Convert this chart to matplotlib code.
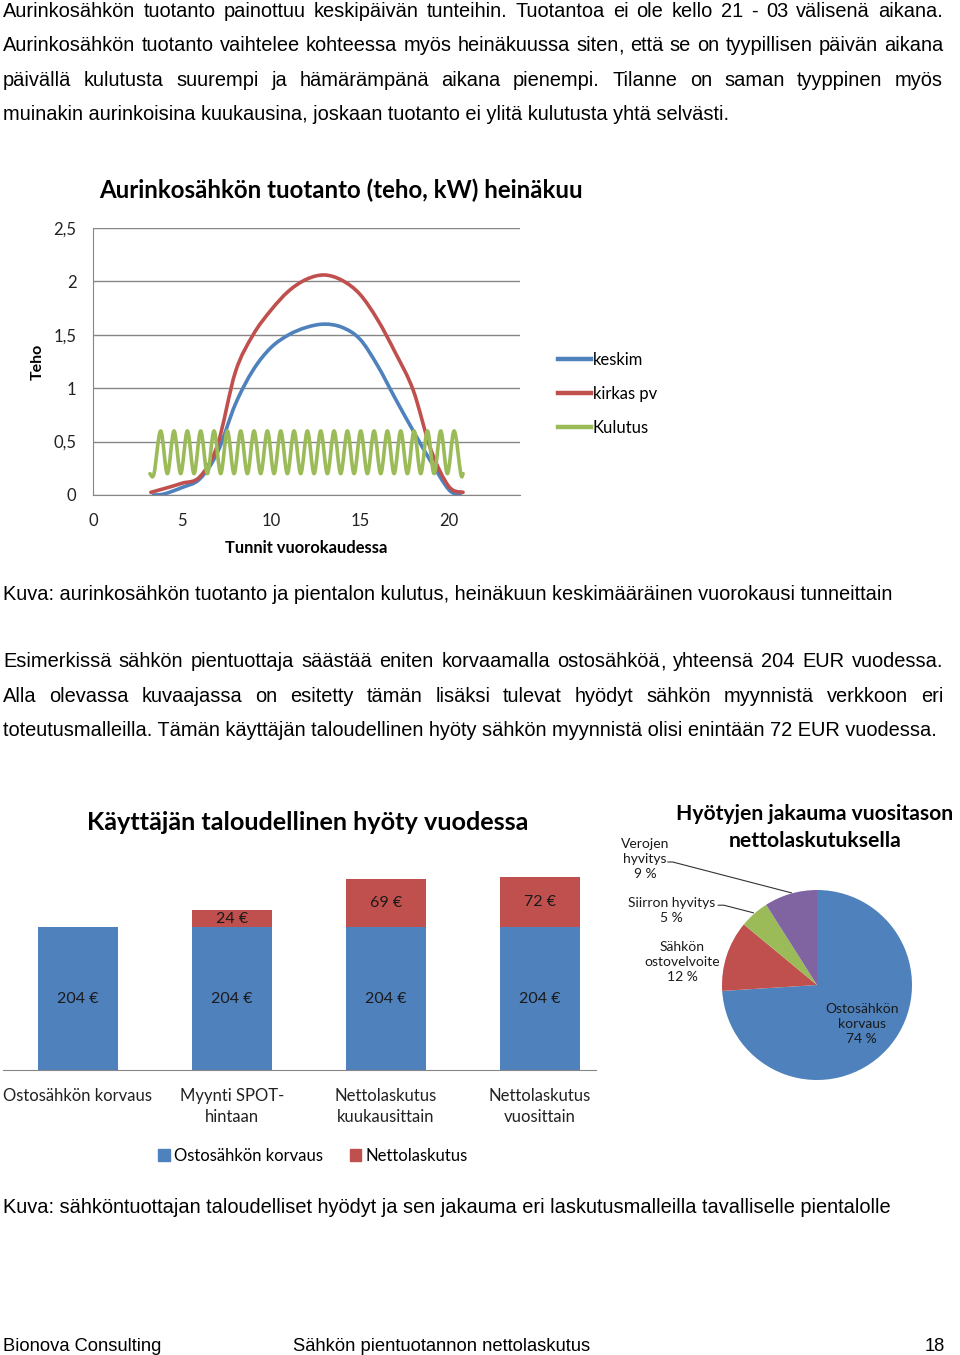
import numpy as np
import matplotlib.pyplot as plt
from matplotlib.path import Path
from matplotlib.patches import PathPatch, Patch
from matplotlib.lines import Line2D

W, H = 960, 1355
BODY = 'Liberation Sans'
CHART = 'Lato'

BLUE = '#4F81BD'
RED = '#C0504D'
GREEN = '#9BBB59'
PURPLE = '#8064A2'
GRID = '#868686'

# --- text of the page ---
para1 = [
    "Aurinkosähkön tuotanto painottuu keskipäivän tunteihin. Tuotantoa ei ole kello 21 - 03 välisenä aikana.",
    "Aurinkosähkön tuotanto vaihtelee kohteessa myös heinäkuussa siten, että se on tyypillisen päivän aikana",
    "päivällä kulutusta suurempi ja hämärämpänä aikana pienempi. Tilanne on saman tyyppinen myös",
    "muinakin aurinkoisina kuukausina, joskaan tuotanto ei ylitä kulutusta yhtä selvästi.",
]
caption1 = "Kuva: aurinkosähkön tuotanto ja pientalon kulutus, heinäkuun keskimääräinen vuorokausi tunneittain"
para2 = [
    "Esimerkissä sähkön pientuottaja säästää eniten korvaamalla ostosähköä, yhteensä 204 EUR vuodessa.",
    "Alla olevassa kuvaajassa on esitetty tämän lisäksi tulevat hyödyt sähkön myynnistä verkkoon eri",
    "toteutusmalleilla. Tämän käyttäjän taloudellinen hyöty sähkön myynnistä olisi enintään 72 EUR vuodessa.",
]
caption2 = "Kuva: sähköntuottajan taloudelliset hyödyt ja sen jakauma eri laskutusmalleilla tavalliselle pientalolle"

# --- line chart data (kW) ---
keskim_h = [3.4, 4, 5, 6, 7, 8, 9, 10, 11, 12, 13, 14, 15, 16, 17, 18, 19, 20, 20.65]
keskim = [0.0, 0.01, 0.07, 0.15, 0.40, 0.85, 1.17, 1.38, 1.50, 1.57, 1.60, 1.57, 1.46, 1.21, 0.90, 0.60, 0.31, 0.05, 0.0]
kirkas_h = [3.25, 4, 5, 6, 7, 8, 9, 10, 11, 12, 13, 14, 15, 16, 17, 18, 19, 20, 20.8]
kirkas = [0.025, 0.06, 0.11, 0.17, 0.47, 1.15, 1.50, 1.73, 1.91, 2.02, 2.06, 2.01, 1.88, 1.64, 1.33, 0.98, 0.42, 0.08, 0.025]
kulutus_h = [3.2] + list(np.linspace(3.43, 20.67, 47)) + [20.8]
kulutus = [0.2,
           0.2, 0.6, 0.2, 0.6, 0.2, 0.6, 0.2, 0.6, 0.2, 0.6, 0.2, 0.6,
           0.2, 0.6, 0.2, 0.6, 0.2, 0.6, 0.2, 0.6, 0.2, 0.6, 0.2, 0.6,
           0.2, 0.6, 0.2, 0.6, 0.2, 0.6, 0.2, 0.6, 0.2, 0.6, 0.2, 0.6,
           0.2, 0.6, 0.2, 0.6, 0.2, 0.6, 0.2, 0.6, 0.2, 0.6,
           0.2, 0.2]
y_ticks = [0, 0.5, 1, 1.5, 2, 2.5]
y_ticklabels = ['0', '0,5', '1', '1,5', '2', '2,5']
x_ticks = [0, 5, 10, 15, 20]

# --- bar chart data (EUR / vuosi) ---
malli = ['Ostosähkön korvaus', 'Myynti SPOT-\nhintaan', 'Nettolaskutus\nkuukausittain', 'Nettolaskutus\nvuosittain']
ostosahko = [204, 204, 204, 204]
nettolaskutus = [0, 24, 69, 72]

# --- pie data (%) ---
pie_labels = ['Ostosähkön\nkorvaus', 'Sähkön\nostovelvoite', 'Siirron hyvitys', 'Verojen\nhyvitys']
pie_values = [74, 12, 5, 9]
pie_colors = [BLUE, RED, GREEN, PURPLE]


def fx(px):
    return px / W


def fy(py):
    return 1 - py / H


def smooth_path(x, y):
    # smoothed line like in Excel: cubic bezier through the points
    pts = np.column_stack([x, y])
    n = len(pts)
    verts = [pts[0]]
    codes = [Path.MOVETO]
    for i in range(n - 1):
        p0 = pts[i - 1] if i > 0 else pts[i]
        p1 = pts[i]
        p2 = pts[i + 1]
        p3 = pts[i + 2] if i + 2 < n else pts[i + 1]
        verts += [p1 + (p2 - p0) / 6, p2 - (p3 - p1) / 6, p2]
        codes += [Path.CURVE4] * 3
    return Path(verts, codes)


fig = plt.figure(figsize=(9.6, 13.55), dpi=100)
renderer = fig.canvas.get_renderer()

BODY_SIZE = 14.4


def text_line(s, y, justify=True, x0=3, x1=943, size=BODY_SIZE):
    if not justify:
        fig.text(fx(x0), fy(y), s, fontsize=size, family=BODY, va='baseline')
        return
    words = s.split(' ')
    # words ending in a comma: draw the comma on its own, keeps the baseline steady
    pieces = []
    for w in words:
        if w.endswith(','):
            pieces.append([w[:-1], ','])
        else:
            pieces.append([w])
    arts = [[fig.text(0, fy(y), p, fontsize=size, family=BODY, va='baseline') for p in parts]
            for parts in pieces]
    widths = [[a.get_window_extent(renderer).width for a in parts] for parts in arts]
    total = sum(sum(w) for w in widths)
    gap = (x1 - x0 - total) / (len(words) - 1)
    x = x0
    for parts, ws in zip(arts, widths):
        for a, w in zip(parts, ws):
            a.set_x(fx(x))
            x += w
        x += gap


for i, line in enumerate(para1):
    text_line(line, 17 + i * 34.3, justify=(i < len(para1) - 1))
text_line(caption1, 600, justify=False)
for i, line in enumerate(para2):
    text_line(line, 667 + i * 34.5, justify=(i < len(para2) - 1))
text_line(caption2, 1213, justify=False)

fig.text(fx(3), fy(1351), "Bionova Consulting", fontsize=13.2, family=BODY, va='baseline')
fig.text(fx(293), fy(1351), "Sähkön pientuotannon nettolaskutus", fontsize=13.2, family=BODY, va='baseline')
fig.text(fx(945), fy(1351), "18", fontsize=13.2, family=BODY, va='baseline', ha='right')

# ---------------- line chart ----------------
ax = fig.add_axes([fx(93), fy(495), fx(520) - fx(93), fy(228) - fy(495)])
ax.set_xlim(0, 24)
ax.set_ylim(0, 2.5)
for spine in ['top', 'right']:
    ax.spines[spine].set_visible(False)
ax.spines['left'].set_color(GRID)
ax.spines['bottom'].set_color(GRID)
ax.set_yticks(y_ticks)
ax.set_yticklabels(y_ticklabels)
ax.set_xticks(x_ticks)
ax.tick_params(length=0, labelsize=12, pad=12, colors='#222222')
ax.tick_params(axis='x', pad=13)
for lab in ax.get_xticklabels() + ax.get_yticklabels():
    lab.set_family(CHART)
ax.yaxis.grid(True, color=GRID, lw=1)
ax.set_axisbelow(True)

for hx, vals, col in [(keskim_h, keskim, BLUE), (kirkas_h, kirkas, RED), (kulutus_h, kulutus, GREEN)]:
    ax.add_patch(PathPatch(smooth_path(hx, vals), fill=False, edgecolor=col, lw=2.6,
                           capstyle='round', joinstyle='round'))

fig.text(fx(341), fy(190), "Aurinkosähkön tuotanto (teho, kW) heinäkuu", family=CHART,
         fontsize=17.3, fontweight='bold', ha='center', va='center')
fig.text(fx(38), fy(362), "Teho", family=CHART, fontsize=11.5, fontweight='bold',
         rotation=90, ha='center', va='center')
fig.text(fx(306), fy(548), "Tunnit vuorokaudessa", family=CHART, fontsize=11.9,
         fontweight='bold', ha='center', va='center')

handles = [Line2D([], [], color=c, lw=3.2) for c in [BLUE, RED, GREEN]]
fig.legend(handles, ['keskim', 'kirkas pv', 'Kulutus'], loc='center left',
           bbox_to_anchor=(fx(543), fy(394)), frameon=False, handlelength=2.0,
           handletextpad=0.1, labelspacing=1.08, prop={'family': CHART, 'size': 12})

# ---------------- bar chart ----------------
bx = fig.add_axes([fx(3), fy(1070), fx(596) - fx(3), fy(860) - fy(1070)])
pos = np.arange(len(malli))
bx.bar(pos, ostosahko, width=0.52, color=BLUE)
bx.bar(pos, nettolaskutus, width=0.52, bottom=ostosahko, color=RED)
bx.set_xlim(-0.487, 3.364)
bx.set_ylim(0, 300)
for spine in ['top', 'right', 'left']:
    bx.spines[spine].set_visible(False)
bx.spines['bottom'].set_color(GRID)
bx.set_yticks([])
bx.set_xticks(pos)
bx.set_xticklabels(malli, family=CHART, fontsize=12, linespacing=1.4, color='#222222')
bx.tick_params(axis='x', length=0, pad=13)
for p, a, b in zip(pos, ostosahko, nettolaskutus):
    bx.text(p, a / 2, f"{a} €", ha='center', va='center', family=CHART, fontsize=11.5, color='#1a1a1a')
    if b > 0:
        bx.text(p, a + b / 2, f"{b} €", ha='center', va='center', family=CHART, fontsize=11.5, color='#1a1a1a')

fig.text(fx(308), fy(822), "Käyttäjän taloudellinen hyöty vuodessa", family=CHART,
         fontsize=18.2, fontweight='bold', ha='center', va='center')
fig.legend([Patch(color=BLUE), Patch(color=RED)], ['Ostosähkön korvaus', 'Nettolaskutus'],
           loc='center', bbox_to_anchor=(fx(313), fy(1156)), ncol=2, frameon=False,
           handlelength=0.7, handleheight=0.7, handletextpad=0.25, columnspacing=1.6,
           prop={'family': CHART, 'size': 12})

# ---------------- pie chart ----------------
px = fig.add_axes([fx(722), fy(1080), fx(912) - fx(722), fy(890) - fy(1080)])
px.pie(pie_values, colors=pie_colors, startangle=90, counterclock=False,
       wedgeprops={'linewidth': 0})
px.set_xlim(-1, 1)
px.set_ylim(-1, 1)
px.set_aspect('equal')

lab_pos = [(0.47, -0.41), (-1.42, 0.24), (-1.53, 0.78), (-1.81, 1.33)]
for name, v, (lx, ly) in zip(pie_labels, pie_values, lab_pos):
    px.text(lx, ly, f"{name}\n{v} %", ha='center', va='center', family=CHART,
            fontsize=10, linespacing=1.3, color='#1a1a1a', clip_on=False)
# leader lines
px.plot([-1.57, -1.52, -0.27], [1.295, 1.295, 0.97], color='#333333', lw=0.8, clip_on=False)
px.plot([-1.04, -0.98, -0.67], [0.84, 0.84, 0.76], color='#333333', lw=0.8, clip_on=False)

fig.text(fx(815), fy(814), "Hyötyjen jakauma vuositason", family=CHART,
         fontsize=15.2, fontweight='bold', ha='center', va='center')
fig.text(fx(815), fy(841), "nettolaskutuksella", family=CHART,
         fontsize=15.2, fontweight='bold', ha='center', va='center')

fig.savefig('out.png', dpi=100)
